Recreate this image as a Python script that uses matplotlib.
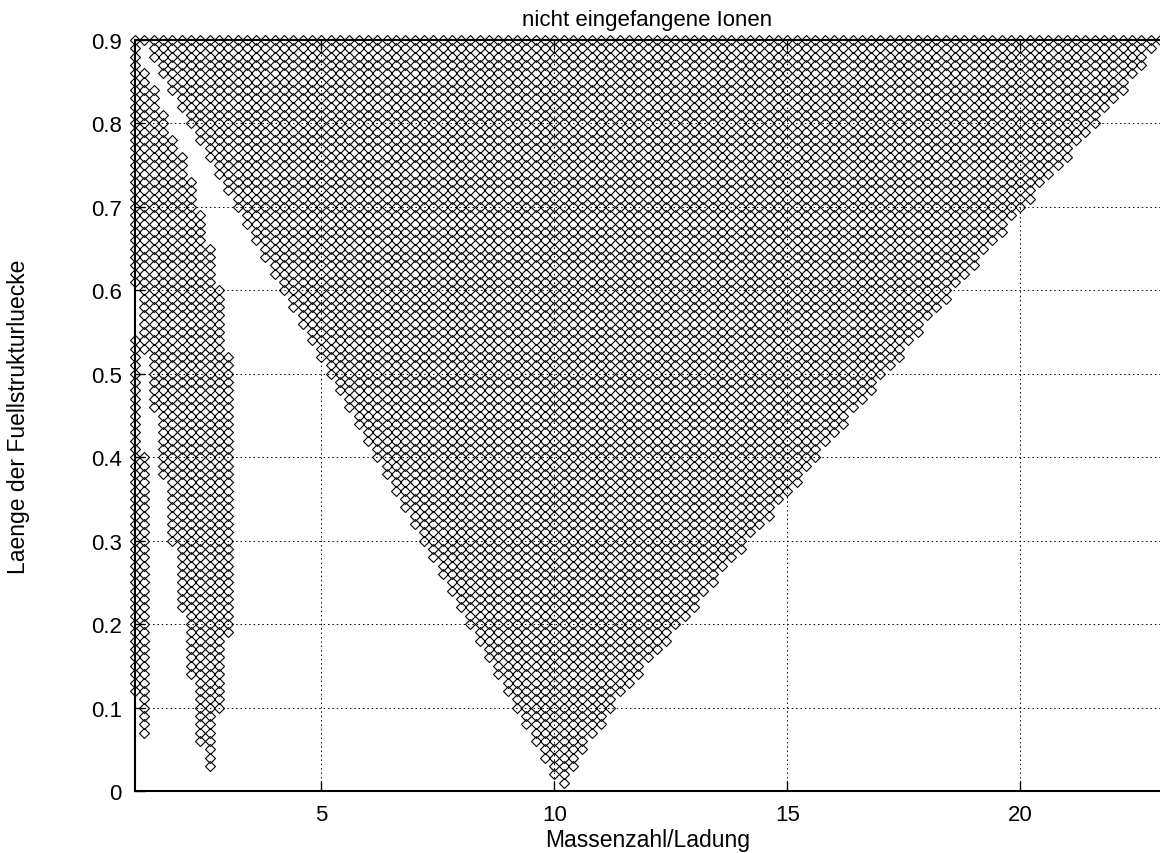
import numpy as np
import matplotlib
matplotlib.use('Agg')
import matplotlib.pyplot as plt

plt.rcParams['font.family'] = ['Liberation Sans', 'DejaVu Sans']

# ---- texts / ticks ----
title = 'nicht eingefangene Ionen'
xlabel = 'Massenzahl/Ladung'
ylabel = 'Laenge der Fuellstrukturluecke'
xticks = [5, 10, 15, 20]
yticks = [0, 0.1, 0.2, 0.3, 0.4, 0.5, 0.6, 0.7, 0.8, 0.9]
xlim = (1, 23)
ylim = (0, 0.9)

# ---- scan lattice (mass/charge step 0.2, length step 0.01) ----
x_grid = np.round(np.arange(1.0, 23.0 + 1e-9, 0.2), 1)
y_grid = np.round(np.arange(0.01, 0.90 + 1e-9, 0.01), 2)

# ---- untrapped cells: (y_high, y_low, x_low, x_high) ----
left_blocks = [
    (0.89, 0.87, 1.0, 1.0),
    (0.86, 0.85, 1.0, 1.2),
    (0.84, 0.82, 1.0, 1.4),
    (0.81, 0.79, 1.0, 1.6),
    (0.78, 0.77, 1.0, 1.8),
    (0.76, 0.74, 1.0, 2.0),
    (0.73, 0.70, 1.0, 2.2),
    (0.69, 0.66, 1.0, 2.4),
    (0.65, 0.61, 1.0, 2.6),
    (0.60, 0.55, 1.2, 2.8),
    (0.54, 0.53, 1.0, 2.8),
    (0.52, 0.46, 1.4, 3.0),
    (0.45, 0.38, 1.6, 3.0),
    (0.37, 0.30, 1.8, 3.0),
    (0.29, 0.22, 2.0, 3.0),
    (0.21, 0.19, 2.2, 3.0),
    (0.18, 0.14, 2.2, 2.8),
    (0.13, 0.10, 2.4, 2.8),
    (0.09, 0.06, 2.4, 2.6),
    (0.05, 0.03, 2.6, 2.6),
]
strip_blocks = [
    (0.52, 0.41, 1.0, 1.0),
    (0.40, 0.12, 1.0, 1.2),
    (0.11, 0.07, 1.2, 1.2),
]
# big wedge: edges
wedge_left_y = [0.00, 0.82, 0.90]
wedge_left_x = [10.2, 2.0, 1.2]
wedge_right_y = [0.00, 0.03, 0.10, 0.70, 0.80, 0.90]
wedge_right_x = [10.2, 10.4, 11.2, 20.0, 21.6, 23.0]
full_row_y = 0.90

X, Y = np.meshgrid(x_grid, y_grid)
eps = 1e-6
mask = np.zeros_like(X, dtype=bool)
for (yh, yl, xl, xh) in left_blocks + strip_blocks:
    mask |= (Y <= yh + eps) & (Y >= yl - eps) & (X >= xl - eps) & (X <= xh + eps)
xl_edge = np.interp(Y, wedge_left_y, wedge_left_x)
xr_edge = np.interp(Y, wedge_right_y, wedge_right_x)
mask |= (X >= xl_edge - 0.05) & (X <= xr_edge + 0.05)
mask |= np.abs(Y - full_row_y) < eps

W, H = 1160, 854
fig = plt.figure(figsize=(W / 100, H / 100), dpi=100)
ax = fig.add_axes([135 / W, (H - 792) / H, (1160 - 135) / W, (792 - 41) / H])

ax.plot(X[mask], Y[mask], linestyle='none', marker='D', markersize=4.7,
        markerfacecolor='none', markeredgecolor='k', markeredgewidth=0.8,
        clip_on=False, zorder=3)

ax.set_xlim(*xlim)
ax.set_ylim(*ylim)
ax.set_xticks(xticks)
ax.set_yticks(yticks)
ax.set_yticklabels(['0' if v == 0 else f'{v:g}' for v in yticks])
ax.set_axisbelow(True)
ax.grid(True, color='k', linestyle=(0, (1.5, 3)), linewidth=0.7)
ax.tick_params(direction='in', length=7, width=1.0, top=True, right=False,
               labelsize=16, pad=9.5)
for s in ['left', 'bottom', 'top']:
    ax.spines[s].set_linewidth(1.5)
ax.spines['right'].set_visible(False)

ax.set_title(title, fontsize=16, pad=11)
ax.set_xlabel(xlabel, fontsize=16.5)
ax.xaxis.set_label_coords(0.5, -(829 - 792) / 751)
ax.set_ylabel(ylabel, fontsize=16.5)
ax.yaxis.set_label_coords((30 - 135) / 1025, 0.5)

fig.savefig('out.png', dpi=100)
